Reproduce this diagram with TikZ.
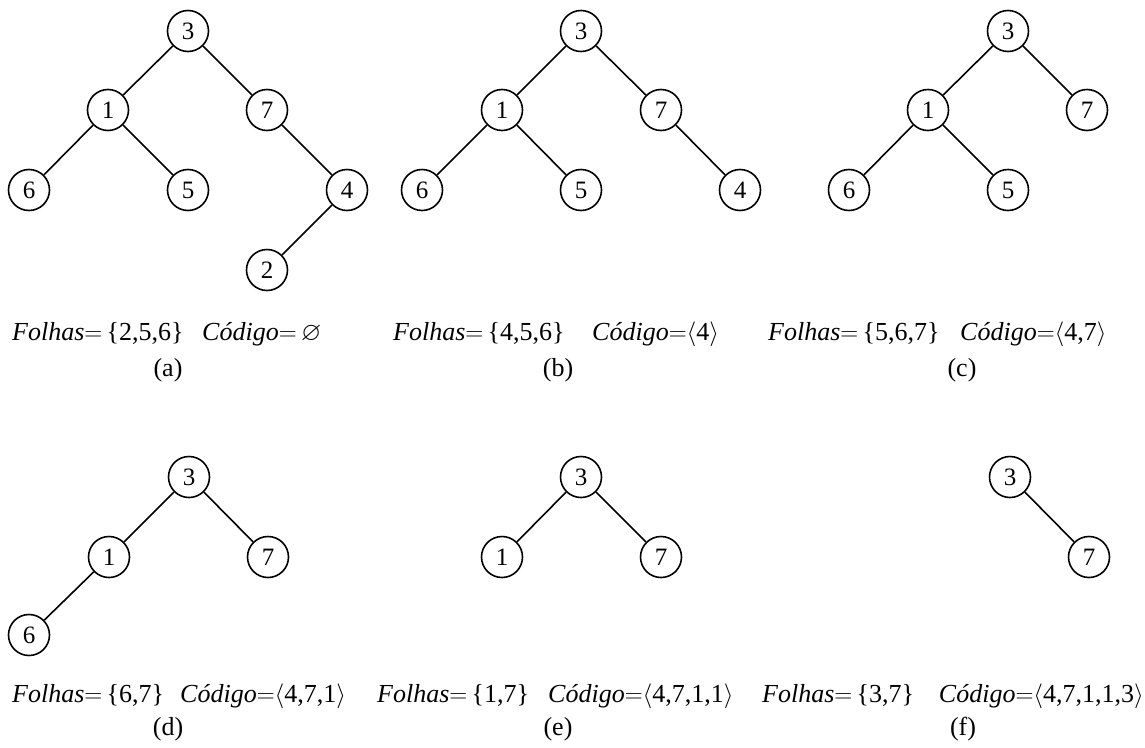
\documentclass[tikz,border=0pt]{standalone}
\usepackage{amssymb}
\usepackage{fontspec}
\setmainfont{Liberation Serif}
\newcommand{\folhas}[1]{\textit{Folhas}$=$\,\{#1\}}
\newcommand{\codigo}[1]{\textit{Código}$=$#1}
\newcommand{\seq}[1]{$\langle$#1$\rangle$}
\begin{document}
\begin{tikzpicture}[x=1pt,y=-1pt,
  vtx/.style={circle,draw,line width=1.6pt,minimum size=41pt,inner sep=0pt,
    font=\fontsize{25}{29}\selectfont},
  edge/.style={line width=1.6pt},
  captxt/.style={anchor=base west,inner sep=0pt,font=\fontsize{26}{30}\selectfont},
  captxtr/.style={captxt,anchor=base east},
  tag/.style={inner sep=0pt,font=\fontsize{26}{30}\selectfont}]
\useasboundingbox (0,0) rectangle (1145,747);

% (a)
\node[vtx] (a3) at (188,31) {3};
\node[vtx] (a1) at (108,110) {1};
\node[vtx] (a7) at (267,110) {7};
\node[vtx] (a6) at (29,190) {6};
\node[vtx] (a5) at (188,190) {5};
\node[vtx] (a4) at (347,190) {4};
\node[vtx] (a2) at (267,270) {2};
\draw[edge] (a3)--(a1) (a3)--(a7) (a1)--(a6) (a1)--(a5) (a7)--(a4) (a4)--(a2);
\node[captxt] (afl) at (12,340) {\folhas{2,5,6}};
\node[captxt] (acd) at (202,340) {\codigo{\,$\varnothing$}};
\node[tag] (alb) at (168,370) {(a)};

% (b)
\node[vtx] (b3) at (581,31) {3};
\node[vtx] (b1) at (502,110) {1};
\node[vtx] (b7) at (661,110) {7};
\node[vtx] (b6) at (422,190) {6};
\node[vtx] (b5) at (581,190) {5};
\node[vtx] (b4) at (740,190) {4};
\draw[edge] (b3)--(b1) (b3)--(b7) (b1)--(b6) (b1)--(b5) (b7)--(b4);
\node[captxt] (bfl) at (393,340) {\folhas{4,5,6}};
\node[captxt] (bcd) at (592,340) {\codigo{\seq{4}}};
\node[tag] (blb) at (558,370) {(b)};

% (c)
\node[vtx] (c3) at (1008,31) {3};
\node[vtx] (c1) at (928,110) {1};
\node[vtx] (c7) at (1087,110) {7};
\node[vtx] (c6) at (849,190) {6};
\node[vtx] (c5) at (1008,190) {5};
\draw[edge] (c3)--(c1) (c3)--(c7) (c1)--(c6) (c1)--(c5);
\node[captxt] (cfl) at (768,340) {\folhas{5,6,7}};
\node[captxt] (ccd) at (960,340) {\codigo{\seq{4,7}}};
\node[tag] (clb) at (962,370) {(c)};

% (d)
\node[vtx] (d3) at (189,477) {3};
\node[vtx] (d1) at (109,557) {1};
\node[vtx] (d7) at (268,557) {7};
\node[vtx] (d6) at (29,635) {6};
\draw[edge] (d3)--(d1) (d3)--(d7) (d1)--(d6);
\node[captxt] (dfl) at (12,702) {\folhas{6,7}};
\node[captxt] (dcd) at (180,702) {\codigo{\seq{4,7,1}}};
\node[tag] (dlb) at (168,729) {(d)};

% (e)
\node[vtx] (e3) at (581,477) {3};
\node[vtx] (e1) at (502,557) {1};
\node[vtx] (e7) at (661,557) {7};
\draw[edge] (e3)--(e1) (e3)--(e7);
\node[captxt] (efl) at (377,702) {\folhas{1,7}};
\node[captxt] (ecd) at (548,702) {\codigo{\seq{4,7,1,1}}};
\node[tag] (elb) at (558,729) {(e)};

% (f)
\node[vtx] (f3) at (1010,477) {3};
\node[vtx] (f7) at (1089,557) {7};
\draw[edge] (f3)--(f7);
\node[captxt] (ffl) at (762,702) {\folhas{3,7}};
\node[captxtr] (fcd) at (1144,702) {\codigo{\seq{4,7,1,1,3}}};
\node[tag] (flb) at (963,729) {(f)};
\end{tikzpicture}
\end{document}
